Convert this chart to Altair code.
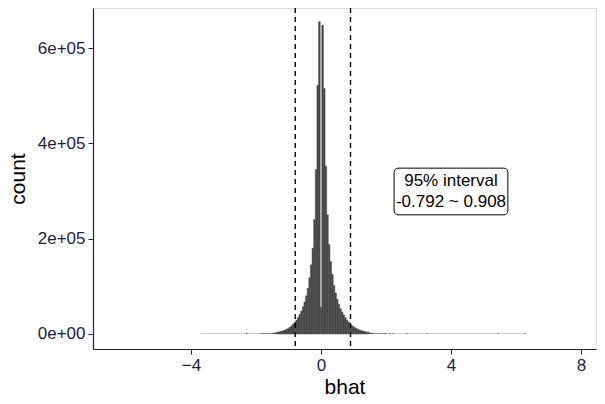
import altair as alt
import pandas as pd
import numpy as np

# ---- data ----
BIN_WIDTH = 0.05
CORE_K_START = -30  # first core bin centre = -30 * 0.05
core_counts = [
    2000, 2500, 3000, 3500, 4200, 5000, 6000, 7000, 8500, 10000,
    12000, 14000, 17000, 21000, 25000, 29000, 35000, 41000, 48000, 57000,
    67000, 80000, 96000, 118000, 145000, 180000, 240000, 345000, 522000, 655000,
    56000,
    648000, 515000, 352000, 250000, 188000, 152000, 125000, 102000, 86000, 73000,
    62000, 53000, 46000, 40000, 34000, 29000, 25000, 21000, 18000, 15000,
    13000, 11000, 9500, 8000, 7000, 6000, 5000, 4300, 3600, 3000,
    2500, 2000,
]

tail_start = [-3.70, -2.31, -2.27, -1.90, 1.625, 2.00, 1.97, 2.10, 2.20, 2.50, 2.63, 3.24, 5.43, 6.26]
tail_end = [-2.31, -2.27, -1.90, -1.525, 2.00, 2.50, 2.01, 2.14, 2.24, 6.30, 2.67, 3.28, 5.47, 6.30]
tail_count = [300, 2500, 600, 1300, 1300, 600, 2000, 1800, 1500, 300, 1800, 1800, 1800, 1800]

interval = [-0.792, 0.908]
label_x = [4.0]
label_y = [300000]
label_text = ["95% interval\n-0.792 ~ 0.908"]
box_x = [2.25]
box_x2 = [5.75]
box_y = [250000]
box_y2 = [348000]

x_ticks = [-4, 0, 4, 8]
y_ticks = [0, 200000, 400000, 600000]

# ---- tables ----
k = np.arange(CORE_K_START, CORE_K_START + len(core_counts))
core = pd.DataFrame({
    "start": k * BIN_WIDTH - BIN_WIDTH / 2,
    "end": k * BIN_WIDTH + BIN_WIDTH / 2,
    "count": core_counts,
})
tails = pd.DataFrame({"start": tail_start, "end": tail_end, "count": tail_count})
bins = pd.concat([tails, core], ignore_index=True)

AXIS_COL = "#221c45"
BAR_COL = "#474747"
FONT = "Liberation Sans"

xscale = alt.Scale(domain=[-7.015, 8.462], nice=False, zero=False)
yscale = alt.Scale(domain=[-31500, 684000], nice=False, zero=False)

xaxis = alt.Axis(values=x_ticks, title="bhat", grid=False, tickSize=5,
                 labelFontSize=17, titleFontSize=21, labelPadding=3, titlePadding=3,
                 domainColor=AXIS_COL, tickColor=AXIS_COL, labelColor=AXIS_COL,
                 titleColor="black", titleFontWeight="normal", labelFont=FONT,
                 titleFont=FONT, domainWidth=1.2, tickWidth=1)
yaxis = alt.Axis(values=y_ticks, title="count", grid=False, tickSize=5,
                 labelFontSize=17, titleFontSize=21, labelPadding=3, titlePadding=9,
                 domainColor=AXIS_COL, tickColor=AXIS_COL, labelColor=AXIS_COL,
                 titleColor="black", titleFontWeight="normal", labelFont=FONT,
                 titleFont=FONT, domainWidth=1.2, tickWidth=1,
                 labelExpr="datum.value == 0 ? '0e+00' : format(datum.value/100000, 'd') + 'e+05'")

bars = alt.Chart(bins).mark_rect(color=BAR_COL, stroke=BAR_COL).encode(
    x=alt.X("start:Q", scale=xscale, axis=xaxis),
    x2="end:Q",
    y=alt.Y("count:Q", scale=yscale, axis=yaxis),
    y2=alt.datum(0),
    strokeWidth=alt.condition("datum.count > 3000", alt.value(0.5), alt.value(0)),
)

rules = alt.Chart(pd.DataFrame({"x": interval})).mark_rule(
    color="black", strokeDash=[5, 4], strokeWidth=1.4
).encode(x=alt.X("x:Q", scale=xscale))

box = alt.Chart(pd.DataFrame({"x": box_x, "x2": box_x2, "y": box_y, "y2": box_y2})).mark_rect(
    fill="white", stroke="black", strokeWidth=1, cornerRadius=4
).encode(x=alt.X("x:Q", scale=xscale), x2="x2:Q", y=alt.Y("y:Q", scale=yscale), y2="y2:Q")

text = alt.Chart(pd.DataFrame({"x": label_x, "y": label_y, "t": label_text})).mark_text(
    fontSize=17, font=FONT, color="black", lineBreak="\n", lineHeight=21,
    align="center", baseline="middle", dy=-10
).encode(x=alt.X("x:Q", scale=xscale), y=alt.Y("y:Q", scale=yscale), text="t:N")

chart = alt.layer(bars, rules, box, text).properties(
    width=503, height=341,
    autosize=alt.AutoSizeParams(type="none"),
    padding={"left": 85, "top": 0, "right": 1, "bottom": 47},
).configure_view(stroke=None).configure(background="white")

chart.save("out.html", embed_options={"renderer": "svg", "actions": False})
